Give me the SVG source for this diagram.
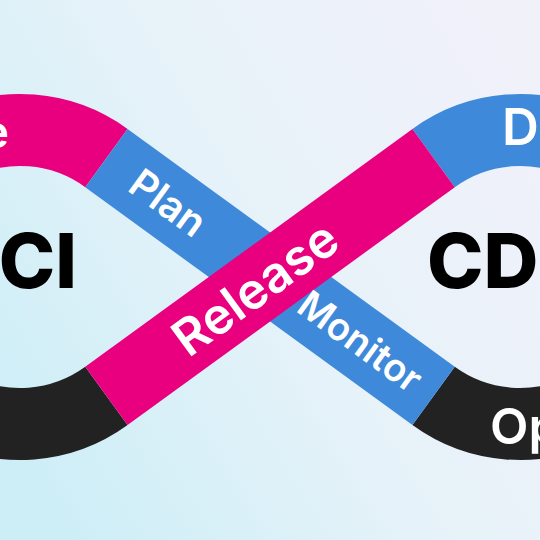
<svg xmlns="http://www.w3.org/2000/svg" width="540" height="540" viewBox="0 0 540 540">
<defs>
<linearGradient id="bg" x1="0" y1="0.8" x2="1" y2="0.2">
<stop offset="0" stop-color="#cdeef7"/>
<stop offset="0.5" stop-color="#e6f2f9"/>
<stop offset="1" stop-color="#f1f1fa"/>
</linearGradient>
<style>
.band{fill:none;stroke-width:72;stroke-linecap:butt}
.pink{stroke:#e8007f}
.blue{stroke:#3e89d9}
.dark{stroke:#222222}
.lbl{font-family:Inter,"Noto Sans","Liberation Sans",sans-serif;font-weight:600;fill:#ffffff}
.big{font-family:Inter,"Noto Sans","Liberation Sans",sans-serif;font-weight:800;fill:#000000;font-size:76px}
</style>
</defs>
<rect width="540" height="540" fill="url(#bg)"/>
<g id="connectors">
<path class="band pink" d="M106.4 158.1 A147 147 0 0 0 -127 277"/>
<path class="band dark" d="M-127 277 A147 147 0 0 0 106.4 395.9"/>
<path class="band blue" d="M433.6 158.1 A147 147 0 0 1 667 277"/>
<path class="band dark" d="M667 277 A147 147 0 0 1 433.6 395.9"/>
<path class="band blue" d="M106.4 158.1 L433.6 395.9"/>
<path class="band pink" d="M106.4 395.9 L433.6 158.1"/>
</g>
<g id="code"><text class="lbl" x="9" y="148" text-anchor="end" font-size="46">e</text></g>
<g id="plan"><text class="lbl" transform="translate(168 203) rotate(36)" x="0" y="14" text-anchor="middle" font-size="40">Plan</text></g>
<g id="release"><text class="lbl" transform="translate(255 288) rotate(-36)" x="0" y="18" text-anchor="middle" font-size="50">Release</text></g>
<g id="monitor"><text class="lbl" transform="translate(360 342) rotate(36)" x="0" y="13" text-anchor="middle" font-size="38">Monitor</text></g>
<g id="deploy"><text class="lbl" x="502" y="145" font-size="51">D</text></g>
<g id="operate"><text class="lbl" x="490" y="444" font-size="50">Op</text></g>
<g id="ci"><text class="big" x="77" y="288" text-anchor="end">CI</text></g>
<g id="cd"><text class="big" x="427" y="288">CD</text></g>
</svg>
